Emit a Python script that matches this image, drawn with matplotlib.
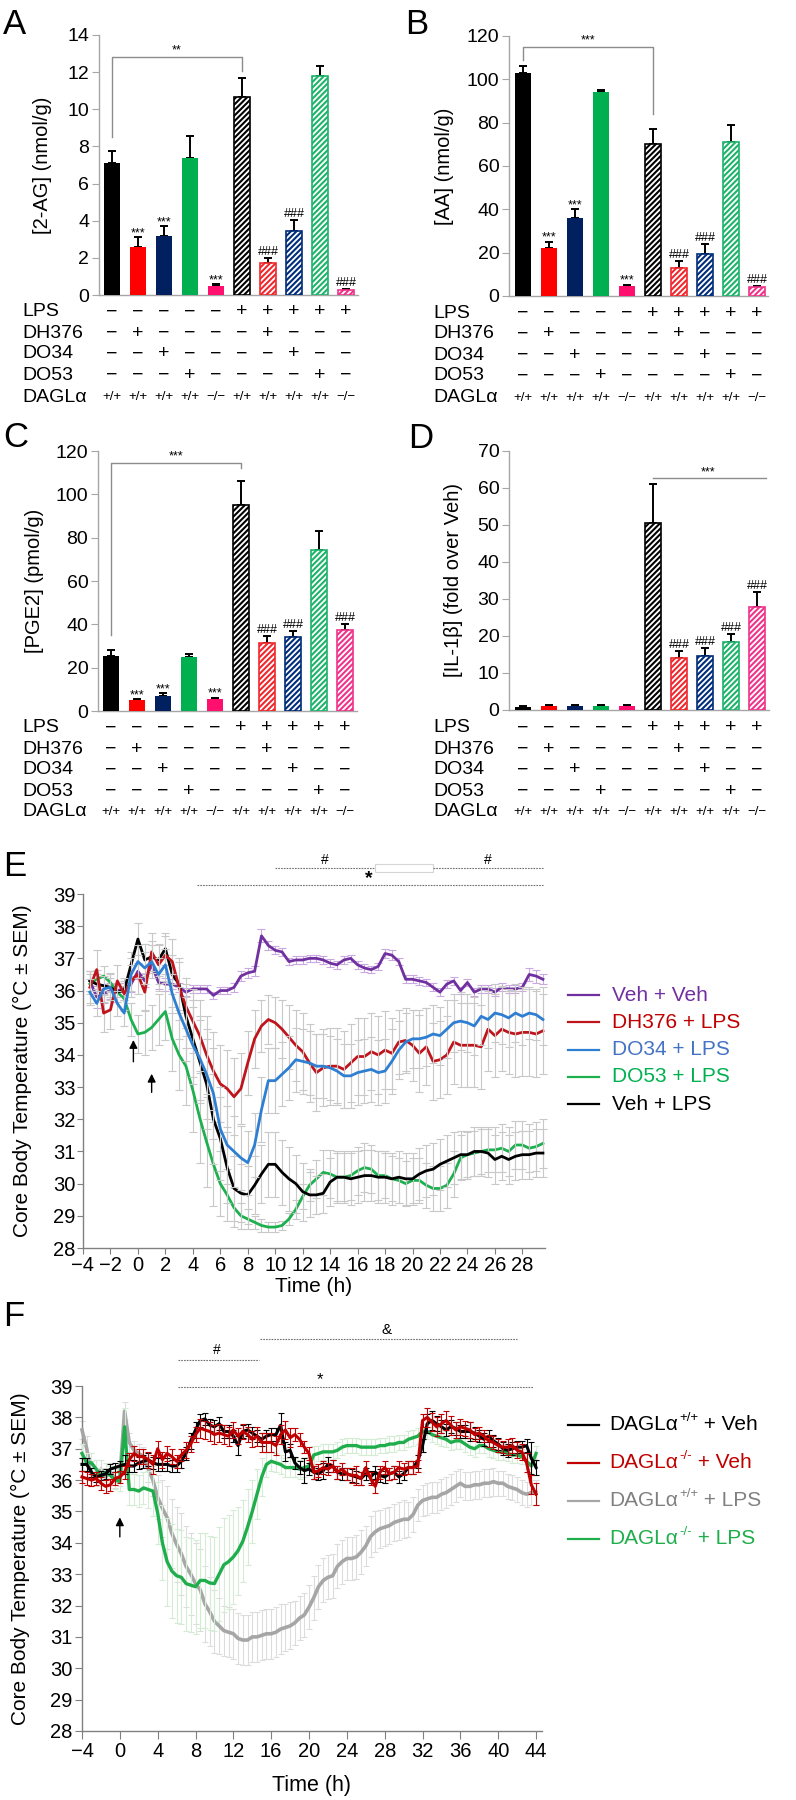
import numpy as np
import matplotlib
matplotlib.use('Agg')
import matplotlib.pyplot as plt
from matplotlib.transforms import blended_transform_factory as btf
from matplotlib.lines import Line2D
from matplotlib.patches import Rectangle

plt.rcParams['font.family'] = ['Liberation Sans', 'DejaVu Sans']
plt.rcParams['hatch.linewidth'] = 1.5

# ---------------- bar-panel data ----------------
lps_row   = ['−', '−', '−', '−', '−', '+', '+', '+', '+', '+']
dh376_row = ['−', '+', '−', '−', '−', '−', '+', '−', '−', '−']
do34_row  = ['−', '−', '+', '−', '−', '−', '−', '+', '−', '−']
do53_row  = ['−', '−', '−', '+', '−', '−', '−', '−', '+', '−']
dagl_row  = ['+/+', '+/+', '+/+', '+/+', '−/−', '+/+', '+/+', '+/+', '+/+', '−/−']
bar_colors = ['#000000', '#FF0000', '#002060', '#00B050', '#FF0F6E',
              '#000000', '#F0282D', '#002D7A', '#1DB36A', '#F0338A']

ag_vals  = [7.1, 2.6, 3.2, 7.4, 0.5, 10.65, 1.7, 3.45, 11.8, 0.25]
ag_errs  = [0.65, 0.5, 0.5, 1.15, 0.1, 1.05, 0.3, 0.6, 0.55, 0.05]
aa_vals  = [103, 22, 36, 94, 4.5, 70, 13, 19.5, 71, 4]
aa_errs  = [3, 3, 4, 1.2, 0.7, 7, 3, 4.5, 8, 0.8]
pge_vals = [25.5, 5, 7, 25, 5.5, 95, 31.5, 34, 74.5, 37.5]
pge_errs = [2.5, 0.5, 1.2, 1.5, 0.7, 11, 3, 3, 8.5, 2.7]
il_vals  = [0.9, 1.1, 1.1, 1.1, 1.1, 50.5, 14, 14.5, 18.5, 27.8]
il_errs  = [0.3, 0.3, 0.3, 0.3, 0.3, 10.5, 2, 2.3, 2, 4]

# ---------------- panel E data (h = -3.5 ... 29.5, step 0.5) ----------------
e_time = np.arange(-3.5, 29.51, 0.5)
e_labels = ['Veh + Veh', 'DH376 + LPS', 'DO34 + LPS', 'DO53 + LPS', 'Veh + LPS']
e_line_colors = ['#7030A0', '#C0141C', '#2E7FD2', '#1DB04F', '#000000']
e_text_colors = ['#7030A0', '#C00000', '#4472C4', '#00B050', '#000000']
e_vehveh = [36.3, 35.8, 35.9, 36.0, 36.0, 36.05, 36.2, 36.6, 36.3, 36.8,
            36.25, 36.2, 36.2, 36.1, 35.95, 36.05, 36.05, 36.05, 35.85, 36.0,
            36.0, 36.1, 36.45, 36.55, 36.6, 37.7, 37.4, 37.25, 37.2, 36.9,
            36.95, 36.95, 37.0, 37.0, 36.95, 36.85, 36.8, 36.95, 37.0, 36.8,
            36.7, 36.65, 36.75, 37.15, 37.1, 36.9, 36.35, 36.35, 36.3, 36.25,
            36.1, 35.95, 36.2, 36.3, 36.0, 36.25, 35.95, 36.05, 36.05, 35.95,
            36.1, 36.05, 36.05, 36.1, 36.5, 36.45, 36.35]
e_dh376 = [36.1, 36.65, 35.3, 35.4, 36.3, 35.9, 36.3, 36.5, 35.95, 37.2,
           36.8, 37.1, 36.9, 36.1, 35.5, 35.05, 34.6, 34.0, 33.5, 33.1,
           32.95, 32.7, 32.95, 33.75, 34.5, 34.9, 35.1, 35.0, 34.8, 34.55,
           34.3, 34.1, 33.75, 33.45, 33.6, 33.65, 33.65, 33.55, 33.75, 33.95,
           33.95, 34.1, 34.0, 34.15, 34.05, 34.4, 34.45, 34.3, 34.05, 34.25,
           33.8, 33.85, 34.0, 34.4, 34.3, 34.3, 34.3, 34.25, 34.8, 34.6,
           34.8, 34.7, 34.65, 34.7, 34.7, 34.65, 34.75]
e_do34 = [35.95, 35.6, 36.05, 36.1, 35.6, 35.3, 36.5, 36.9, 36.7, 36.9,
          36.5, 36.8, 35.9, 35.3, 34.8, 34.3, 33.9, 33.4, 32.8, 31.7,
          31.2, 31.0, 30.8, 30.65, 31.2, 32.3, 33.2, 33.2, 33.4, 33.6,
          33.85, 33.8, 33.75, 33.65, 33.65, 33.6, 33.5, 33.35, 33.35, 33.45,
          33.5, 33.55, 33.45, 33.5, 33.8, 34.15, 34.4, 34.5, 34.5, 34.55,
          34.65, 34.6, 34.8, 35.0, 35.05, 35.0, 34.9, 35.2, 35.1, 35.3,
          35.25, 35.15, 35.3, 35.2, 35.3, 35.25, 35.1]
e_do53 = [36.2, 36.35, 36.45, 36.25, 35.95, 35.75, 35.1, 34.65, 34.7, 34.85,
          35.1, 35.35, 34.5, 34.0, 33.65, 32.9, 32.05, 31.3, 30.6, 30.0,
          29.65, 29.25, 29.0, 28.9, 28.8, 28.7, 28.65, 28.65, 28.7, 28.9,
          29.2, 29.6, 29.95, 30.15, 30.35, 30.3, 30.2, 30.2, 30.25, 30.4,
          30.5, 30.45, 30.25, 30.25, 30.15, 30.1, 30.0, 30.1, 30.1, 29.95,
          29.85, 29.85, 29.95, 30.3, 30.8, 30.9, 30.95, 31.0, 31.05, 31.05,
          31.1, 31.0, 31.2, 31.2, 31.1, 31.15, 31.25]
e_vehlps = [36.3, 36.2, 36.15, 36.1, 35.95, 36.0, 36.8, 37.6, 36.95, 37.05,
            36.95, 37.3, 36.5, 36.2, 35.2, 34.5, 33.8, 33.1, 32.0, 31.4,
            30.5, 29.85, 29.7, 29.65, 29.95, 30.3, 30.6, 30.6, 30.35, 30.15,
            30.0, 29.75, 29.65, 29.65, 29.7, 30.05, 30.2, 30.2, 30.15, 30.2,
            30.25, 30.25, 30.2, 30.2, 30.15, 30.2, 30.15, 30.15, 30.3, 30.4,
            30.45, 30.6, 30.7, 30.8, 30.9, 30.9, 31.0, 31.0, 30.95, 30.75,
            30.85, 30.75, 30.85, 30.9, 30.9, 30.95, 30.95]
e_vehveh_sem = [0.3, 0.35, 0.3, 0.25, 0.2, 0.2, 0.25, 0.25, 0.2, 0.2,
                0.2, 0.2, 0.15, 0.15, 0.12, 0.12, 0.12, 0.12, 0.12, 0.12,
                0.12, 0.15, 0.15, 0.15, 0.15, 0.2, 0.15, 0.12, 0.12, 0.12,
                0.12, 0.12, 0.12, 0.12, 0.12, 0.12, 0.12, 0.12, 0.12, 0.12,
                0.12, 0.12, 0.12, 0.15, 0.15, 0.12, 0.12, 0.12, 0.12, 0.12,
                0.12, 0.12, 0.12, 0.12, 0.12, 0.12, 0.12, 0.12, 0.12, 0.12,
                0.12, 0.12, 0.12, 0.12, 0.2, 0.2, 0.15]
e_dh376_sem = [0.5, 0.6, 0.6, 0.6, 0.5, 0.5, 0.5, 0.6, 0.6, 0.6,
               0.6, 0.6, 0.7, 0.8, 0.9, 1.0, 1.1, 1.2, 1.2, 1.2,
               1.2, 1.2, 1.1, 1.0, 0.9, 0.8, 0.75, 0.8, 0.9, 1.0,
               1.1, 1.2, 1.2, 1.2, 1.2, 1.2, 1.2, 1.2, 1.2, 1.2,
               1.2, 1.2, 1.2, 1.2, 1.1, 1.0, 1.0, 1.1, 1.2, 1.2,
               1.2, 1.2, 1.2, 1.3, 1.3, 1.3, 1.3, 1.3, 1.3, 1.3,
               1.3, 1.3, 1.35, 1.35, 1.35, 1.35, 1.35]
e_do34_sem = [0.4, 0.4, 0.4, 0.4, 0.4, 0.4, 0.5, 0.5, 0.5, 0.5,
              0.5, 0.5, 0.6, 0.8, 1.0, 1.2, 1.3, 1.4, 1.4, 1.3,
              1.2, 1.1, 1.0, 1.0, 1.0, 1.0, 1.0, 1.0, 1.0, 1.0,
              1.0, 1.0, 1.0, 1.0, 1.0, 1.0, 1.0, 1.0, 1.0, 1.0,
              1.0, 1.0, 1.0, 1.0, 1.0, 0.9, 0.9, 0.9, 0.9, 0.9,
              0.9, 0.9, 0.9, 0.9, 0.9, 0.9, 0.9, 0.9, 0.9, 0.9,
              0.9, 0.9, 0.9, 0.9, 0.8, 0.8, 0.8]
e_do53_sem = [0.3, 0.3, 0.3, 0.3, 0.3, 0.4, 0.5, 0.6, 0.7, 0.7,
              0.8, 0.9, 1.0, 1.1, 1.2, 1.3, 1.4, 1.4, 1.3, 1.0,
              0.8, 0.6, 0.4, 0.3, 0.2, 0.2, 0.15, 0.15, 0.15, 0.2,
              0.3, 0.4, 0.5, 0.6, 0.7, 0.75, 0.75, 0.75, 0.75, 0.75,
              0.75, 0.75, 0.75, 0.7, 0.7, 0.7, 0.7, 0.7, 0.7, 0.7,
              0.7, 0.7, 0.7, 0.7, 0.7, 0.7, 0.7, 0.7, 0.7, 0.7,
              0.75, 0.75, 0.75, 0.75, 0.75, 0.75, 0.75]
e_vehlps_sem = [0.3, 0.3, 0.3, 0.3, 0.3, 0.3, 0.4, 0.5, 0.5, 0.5,
                0.5, 0.5, 0.6, 0.8, 1.0, 1.2, 1.3, 1.4, 1.4, 1.3,
                1.1, 1.0, 0.9, 0.9, 0.9, 0.9, 1.0, 1.0, 1.0, 1.0,
                0.9, 0.9, 0.7, 0.6, 0.6, 0.75, 0.8, 0.8, 0.8, 0.8,
                0.8, 0.8, 0.8, 0.8, 0.8, 0.8, 0.8, 0.8, 0.8, 0.8,
                0.8, 0.8, 0.8, 0.8, 0.75, 0.75, 0.75, 0.75, 0.75, 0.75,
                0.75, 0.75, 0.75, 0.75, 0.75, 0.75, 0.75]

# ---------------- panel F data (h = -4 ... 44, step 0.5) ----------------
f_time = np.arange(-4, 44.01, 0.5)
f_wt_veh = [36.5, 36.5, 36.25, 36.1, 36.15, 36.2, 36.35, 36.4, 36.45, 36.5,
            36.45, 36.45, 36.55, 36.6, 36.65, 36.55, 36.5, 36.5, 36.5, 36.45,
            36.45, 36.6, 36.85, 37.25, 37.6, 37.9, 37.95, 37.75, 37.7, 37.8,
            37.55, 37.55, 37.4, 37.1, 37.55, 37.6, 37.5, 37.4, 37.3, 37.4,
            37.45, 37.45, 37.75, 36.9, 36.95, 36.55, 36.4, 36.3, 36.35, 36.25,
            36.2, 36.3, 36.5, 36.45, 36.25, 36.2, 36.2, 36.15, 36.1, 36.05,
            36.2, 36.1, 36.25, 36.15, 36.1, 36.2, 36.25, 36.1, 36.2, 36.4,
            36.4, 36.6, 37.1, 37.8, 37.9, 37.8, 37.7, 37.6, 37.7, 37.65,
            37.55, 37.55, 37.55, 37.5, 37.4, 37.3, 37.4, 37.25, 37.15, 37.0,
            36.95, 37.0, 37.05, 37.05, 37.1, 36.7, 36.4]
f_ko_veh = [36.1, 36.05, 36.0, 36.05, 35.9, 35.8, 35.85, 36.05, 36.1, 36.25,
            36.65, 36.85, 36.75, 36.75, 36.65, 36.5, 37.0, 36.65, 36.85, 36.75,
            36.6, 36.8, 36.95, 37.15, 37.45, 37.65, 37.6, 37.55, 37.45, 37.5,
            37.45, 37.4, 37.6, 37.4, 37.55, 37.45, 37.3, 37.4, 37.2, 37.2,
            37.2, 37.1, 37.45, 37.6, 37.35, 37.45, 37.3, 37.05, 36.85, 36.25,
            36.3, 36.4, 36.35, 36.45, 36.25, 36.35, 36.2, 36.15, 36.15, 36.05,
            36.4, 36.05, 35.8, 36.25, 36.4, 36.2, 36.25, 36.4, 36.35, 36.4,
            36.4, 36.45, 37.9, 38.0, 37.85, 37.7, 37.8, 37.9, 37.75, 37.6,
            37.7, 37.65, 37.6, 37.45, 37.5, 37.4, 37.25, 37.2, 37.1, 37.05,
            37.05, 37.1, 36.95, 36.9, 36.55, 35.85, 35.55]
f_wt_lps = [37.6, 37.0, 36.2, 36.1, 36.35, 36.1, 36.25, 36.05, 36.1, 38.2,
            37.2, 36.95, 36.85, 36.75, 36.35, 36.0, 35.45, 35.1, 34.8, 34.3,
            33.95, 33.65, 33.25, 33.0, 32.7, 32.5, 32.05, 31.8, 31.5, 31.35,
            31.2, 31.15, 31.1, 30.95, 30.9, 30.9, 31.0, 31.0, 31.05, 31.1,
            31.1, 31.15, 31.25, 31.3, 31.35, 31.45, 31.6, 31.7, 31.95, 32.25,
            32.6, 32.8, 32.9, 32.95, 33.25, 33.4, 33.5, 33.5, 33.55, 33.7,
            33.9, 34.2, 34.35, 34.45, 34.5, 34.55, 34.65, 34.7, 34.75, 34.75,
            34.9, 35.2, 35.35, 35.4, 35.45, 35.45, 35.55, 35.6, 35.7, 35.8,
            35.9, 35.8, 35.8, 35.85, 35.85, 35.9, 35.9, 35.95, 35.9, 35.9,
            35.8, 35.75, 35.7, 35.6, 35.55, 35.6, 35.6]
f_ko_lps = [36.85, 36.55, 36.55, 36.35, 36.1, 36.25, 36.15, 36.0, 35.95, 37.7,
            35.7, 35.7, 35.65, 35.75, 35.7, 35.65, 34.95, 34.0, 33.4, 33.1,
            32.95, 32.9, 32.7, 32.65, 32.6, 32.8, 32.8, 32.72, 32.7, 33.0,
            33.3, 33.4, 33.55, 33.75, 34.05, 34.5, 35.0, 35.55, 36.1, 36.5,
            36.6, 36.55, 36.5, 36.4, 36.4, 36.4, 36.35, 36.4, 36.45, 36.8,
            36.85, 36.9, 36.9, 36.9, 36.95, 37.05, 37.1, 37.1, 37.1, 37.05,
            37.05, 37.05, 37.05, 37.1, 37.1, 37.15, 37.15, 37.2, 37.2, 37.3,
            37.35, 37.4, 37.55, 37.55, 37.45, 37.4, 37.35, 37.3, 37.2, 37.25,
            37.25, 37.15, 37.05, 37.0, 37.1, 37.1, 37.0, 36.95, 36.9, 36.9,
            36.85, 36.8, 36.8, 36.75, 36.6, 36.45, 36.85]
f_wt_veh_sem = [0.2, 0.2, 0.15, 0.15, 0.15, 0.15, 0.15, 0.15, 0.15, 0.3,
                0.2, 0.2, 0.2, 0.2, 0.2, 0.2, 0.2, 0.2, 0.2, 0.2,
                0.2, 0.2, 0.2, 0.25, 0.25, 0.2, 0.2, 0.2, 0.2, 0.2,
                0.2, 0.2, 0.2, 0.3, 0.2, 0.2, 0.2, 0.2, 0.2, 0.2,
                0.2, 0.2, 0.4, 0.3, 0.2, 0.2, 0.2, 0.4, 0.2, 0.2,
                0.2, 0.25, 0.25, 0.2, 0.2, 0.2, 0.2, 0.2, 0.2, 0.2,
                0.2, 0.2, 0.2, 0.2, 0.2, 0.2, 0.2, 0.2, 0.2, 0.2,
                0.2, 0.2, 0.2, 0.3, 0.3, 0.25, 0.2, 0.2, 0.2, 0.2,
                0.2, 0.2, 0.3, 0.2, 0.2, 0.2, 0.2, 0.2, 0.2, 0.2,
                0.2, 0.2, 0.2, 0.2, 0.2, 0.5, 0.25]
f_ko_veh_sem = [0.2, 0.2, 0.2, 0.2, 0.2, 0.2, 0.2, 0.2, 0.2, 0.2,
                0.2, 0.25, 0.25, 0.25, 0.25, 0.3, 0.25, 0.25, 0.25, 0.25,
                0.2, 0.2, 0.25, 0.25, 0.25, 0.3, 0.3, 0.3, 0.3, 0.3,
                0.3, 0.3, 0.25, 0.25, 0.25, 0.25, 0.25, 0.3, 0.3, 0.3,
                0.3, 0.3, 0.3, 0.3, 0.3, 0.2, 0.2, 0.2, 0.2, 0.2,
                0.2, 0.2, 0.2, 0.2, 0.2, 0.2, 0.2, 0.25, 0.3, 0.2,
                0.2, 0.2, 0.2, 0.2, 0.2, 0.2, 0.2, 0.2, 0.2, 0.2,
                0.2, 0.2, 0.2, 0.3, 0.3, 0.3, 0.3, 0.3, 0.3, 0.25,
                0.25, 0.25, 0.25, 0.2, 0.2, 0.2, 0.2, 0.2, 0.2, 0.2,
                0.25, 0.25, 0.25, 0.25, 0.3, 0.3, 0.35]
f_wt_lps_sem = [0.3, 0.4, 0.4, 0.3, 0.3, 0.3, 0.3, 0.3, 0.3, 0.3,
                0.3, 0.3, 0.3, 0.3, 0.4, 0.5, 0.7, 0.9, 1.0, 1.1,
                1.2, 1.3, 1.3, 1.3, 1.3, 1.3, 1.2, 1.1, 1.0, 0.9,
                0.8, 0.8, 0.8, 0.8, 0.8, 0.8, 0.8, 0.8, 0.8, 0.8,
                0.8, 0.8, 0.8, 0.75, 0.75, 0.7, 0.7, 0.7, 0.7, 0.7,
                0.7, 0.7, 0.7, 0.7, 0.7, 0.7, 0.7, 0.7, 0.7, 0.7,
                0.65, 0.65, 0.65, 0.6, 0.6, 0.6, 0.6, 0.6, 0.6, 0.55,
                0.55, 0.5, 0.5, 0.5, 0.5, 0.5, 0.5, 0.5, 0.5, 0.5,
                0.45, 0.45, 0.45, 0.45, 0.45, 0.45, 0.45, 0.45, 0.4, 0.4,
                0.4, 0.4, 0.4, 0.4, 0.4, 0.4, 0.4]
f_ko_lps_sem = [0.3, 0.3, 0.3, 0.3, 0.3, 0.3, 0.3, 0.3, 0.3, 0.6,
                0.5, 0.5, 0.5, 0.5, 0.6, 0.8, 1.0, 1.2, 1.4, 1.5,
                1.5, 1.5, 1.5, 1.5, 1.5, 1.5, 1.5, 1.5, 1.5, 1.5,
                1.5, 1.5, 1.5, 1.4, 1.3, 1.2, 1.0, 0.8, 0.6, 0.4,
                0.3, 0.3, 0.3, 0.3, 0.3, 0.3, 0.3, 0.3, 0.3, 0.3,
                0.25, 0.25, 0.25, 0.25, 0.25, 0.25, 0.25, 0.25, 0.25, 0.25,
                0.25, 0.25, 0.25, 0.25, 0.25, 0.25, 0.25, 0.25, 0.25, 0.25,
                0.25, 0.25, 0.25, 0.25, 0.25, 0.25, 0.25, 0.25, 0.25, 0.25,
                0.25, 0.25, 0.25, 0.25, 0.25, 0.25, 0.25, 0.25, 0.25, 0.25,
                0.25, 0.25, 0.25, 0.25, 0.25, 0.25, 0.25]
f_line_colors = ['#000000', '#C00000', '#A6A6A6', '#1FAE4B']
f_text_colors = ['#000000', '#C00000', '#808080', '#1FAE4B']
f_main = ['DAGLα', 'DAGLα', 'DAGLα', 'DAGLα']
f_sup = ['+/+', '-/-', '+/+', '-/-']
f_rest = [' + Veh', ' + Veh', ' + LPS', ' + LPS']

# ---------------- figure ----------------
W, H = 796, 1800
fig = plt.figure(figsize=(W / 100, H / 100), dpi=100)
renderer = fig.canvas.get_renderer()


def fy(ypx):
    return 1 - ypx / H


def add_ax(l, t, r, b):
    return fig.add_axes([l / W, 1 - b / H, (r - l) / W, (b - t) / H])


def style(ax, col):
    for s in ['top', 'right']:
        ax.spines[s].set_visible(False)
    for s in ['left', 'bottom']:
        ax.spines[s].set_color(col)
        ax.spines[s].set_linewidth(1.0)
    ax.tick_params(colors=col, labelcolor='black', direction='out')


def bar_panel(ax, vals, errs, ytop, ystep, ylabel, ylab_x, stars, hashes, xl):
    xs = np.arange(len(vals))
    for i in xs:
        if lps_row[i] == '+':
            ax.bar(i, vals[i], 0.6, facecolor='white', edgecolor=bar_colors[i],
                   hatch='//////', linewidth=1.2, zorder=3)
        else:
            ax.bar(i, vals[i], 0.6, color=bar_colors[i], linewidth=0, zorder=3)
    ax.errorbar(xs, vals, yerr=[np.zeros(len(vals)), errs], fmt='none', ecolor='black',
                elinewidth=1.4, capsize=3.2, capthick=1.4, zorder=2)
    for i in stars:
        ax.annotate('***', (i, vals[i] + errs[i]), xytext=(0, -1.5), textcoords='offset points',
                    ha='center', va='bottom', fontsize=9)
    for i in hashes:
        ax.annotate('###', (i, vals[i] + errs[i]), xytext=(0, 0), textcoords='offset points',
                    ha='center', va='bottom', fontsize=9)
    style(ax, '#A6A6A6')
    ax.set_xlim(*xl)
    ax.set_ylim(0, ytop)
    ax.set_yticks(np.arange(0, ytop + 0.01, ystep))
    ax.set_xticks([])
    ax.tick_params(axis='y', labelsize=14, length=5, pad=2)
    ax.text(ylab_x, 0.5, ylabel, rotation=90, ha='center', va='center', fontsize=14.5,
            transform=ax.transAxes)


def rows(ax, rows_px, lab_x):
    tr = btf(ax.transData, fig.transFigure)
    names = ['LPS', 'DH376', 'DO34', 'DO53', 'DAGLα']
    data = [lps_row, dh376_row, do34_row, do53_row, dagl_row]
    for name, row, ypx in zip(names, data, rows_px):
        fig.text(lab_x / W, fy(ypx), name, fontsize=14, va='center', ha='left')
        for i, s in enumerate(row):
            ax.text(i, fy(ypx), s, transform=tr, ha='center', va='center',
                    fontsize=(9.5 if name == 'DAGLα' else 14), clip_on=False)


def bracket(ax, x0, x1, ytop, yl, yr, txt):
    ax.plot([x0, x0, x1, x1], [yl, ytop, ytop, yr], color='#8C8C8C', lw=1.0, zorder=1)
    ax.annotate(txt, ((x0 + x1) / 2, ytop), xytext=(0, 0), textcoords='offset points',
                ha='center', va='bottom', fontsize=9)


# Panel A
axA = add_ax(99, 35, 358, 295)
bar_panel(axA, ag_vals, ag_errs, 14, 2, '[2-AG] (nmol/g)', -0.22, [1, 2, 4], [6, 7, 9], (-0.5, 9.46))
bracket(axA, 0, 5, 12.84, 8.5, 12.07, '**')
rows(axA, [312, 333, 354, 375, 397], 22)

# Panel B
axB = add_ax(509, 36, 768, 296)
bar_panel(axB, aa_vals, aa_errs, 120, 20, '[AA] (nmol/g)', -0.25, [1, 2, 4], [6, 7, 9], (-0.54, 9.42))
bracket(axB, 0, 5, 115, 109, 84, '***')
rows(axB, [313, 334, 355, 376, 398], 433)

# Panel C
axC = add_ax(98, 451, 357, 711)
bar_panel(axC, pge_vals, pge_errs, 120, 20, '[PGE2] (pmol/g)', -0.245, [1, 2, 4], [6, 7, 9], (-0.5, 9.46))
bracket(axC, 0, 5, 114.6, 35, 112, '***')
rows(axC, [728, 749, 770, 791, 812], 22)

# Panel D
axD = add_ax(509, 451, 769, 710)
bar_panel(axD, il_vals, il_errs, 70, 10, '[IL-1β] (fold over Veh)', -0.215, [], [6, 7, 8, 9], (-0.54, 9.46))
axD.plot([5, 9.35], [62.7, 62.7], color='#8C8C8C', lw=1.0, clip_on=False)
axD.annotate('***', (7.1, 62.7), xytext=(0, 0), textcoords='offset points', ha='center', va='bottom', fontsize=9)
rows(axD, [728, 749, 770, 791, 812], 433)

# panel letters
for lab, x, y in [('A', 3, 8), ('B', 405, 8), ('C', 3, 421), ('D', 408, 422), ('E', 3, 850), ('F', 3, 1300)]:
    fig.text(x / W, fy(y), lab, fontsize=25, va='top', ha='left')


def series(ax, t, v, s, lcol, ecol, lw, cap, z):
    n = min(len(t), len(v), len(s))
    t, v, s = np.asarray(t[:n]), np.asarray(v[:n]), np.asarray(s[:n])
    ax.errorbar(t, v, yerr=s, fmt='none', ecolor=ecol, elinewidth=0.8, capsize=cap,
                capthick=0.8, zorder=z - 0.5, clip_on=False)
    ax.plot(t, v, color=lcol, lw=lw, zorder=z, solid_joinstyle='round', clip_on=False)


# Panel E
axE = add_ax(83, 894, 545, 1248)
style(axE, '#808080')
axE.set_xlim(-4, 29.65)
axE.set_ylim(28, 39)
axE.set_xticks(np.arange(-4, 29, 2))
axE.set_yticks(np.arange(28, 40, 1))
axE.tick_params(labelsize=14.5, length=4, pad=1.5)
e_series = [e_vehveh, e_dh376, e_do34, e_do53, e_vehlps]
e_sems = [e_vehveh_sem, e_dh376_sem, e_do34_sem, e_do53_sem, e_vehlps_sem]
e_ecols = ['#C9A9E0', '#C8C8C8', '#C8C8C8', '#C8C8C8', '#C8C8C8']
e_z = [3, 6, 7, 4, 5]
for v, s, lc, ec, z in zip(e_series, e_sems, e_line_colors, e_ecols, e_z):
    series(axE, e_time, v, s, lc, ec, 2.0, 2.6, z)
axE.annotate('', xy=(-0.33, 34.55), xytext=(-0.33, 33.7),
             arrowprops=dict(arrowstyle='-|>', color='black', lw=1.0, mutation_scale=12), zorder=9)
axE.annotate('', xy=(1.0, 33.5), xytext=(1.0, 32.75),
             arrowprops=dict(arrowstyle='-|>', color='black', lw=1.0, mutation_scale=12), zorder=9)
axE.text(-0.13, 0.5, 'Core Body Temperature (°C ± SEM)', rotation=90, ha='center', va='center',
         fontsize=15, transform=axE.transAxes)
axE.text(0.5, -0.11, 'Time (h)', ha='center', va='center', fontsize=15, transform=axE.transAxes)
trE = btf(axE.transData, fig.transFigure)
dash = (0, (1.5, 1))
axE.plot([10, 17.3], [fy(868)] * 2, transform=trE, color='#707070', lw=0.8, ls=dash, clip_on=False)
axE.plot([21.5, 29.5], [fy(868)] * 2, transform=trE, color='#707070', lw=0.8, ls=dash, clip_on=False)
axE.add_patch(Rectangle((17.3, fy(872)), 4.2, 8 / H, transform=trE, fill=False,
                        edgecolor='#D5D5D5', lw=0.8, clip_on=False))
axE.text(13.6, fy(860), '#', transform=trE, ha='center', va='center', fontsize=10)
axE.text(25.5, fy(860), '#', transform=trE, ha='center', va='center', fontsize=10)
axE.plot([4.3, 29.5], [fy(885)] * 2, transform=trE, color='#707070', lw=0.8, ls=dash, clip_on=False)
axE.text(16.8, fy(879), '*', transform=trE, ha='center', va='center', fontsize=14, fontweight='bold')

# legend E
for k, (lab, lc, tc) in enumerate(zip(e_labels, e_line_colors, e_text_colors)):
    y = fy(995 + 27.3 * k)
    fig.add_artist(Line2D([568 / W, 599 / W], [y, y], color=lc, lw=1.6))
    fig.text(612 / W, y, lab, color=tc, fontsize=15, va='center', ha='left')

# Panel F
axF = add_ax(82, 1386, 542, 1731)
style(axF, '#808080')
axF.set_xlim(-4, 44.63)
axF.set_ylim(28, 39)
axF.set_xticks(np.arange(-4, 45, 4))
axF.set_yticks(np.arange(28, 40, 1))
axF.tick_params(axis='x', labelsize=14.5, length=6, pad=2)
axF.tick_params(axis='y', labelsize=14.5, length=5, pad=2)
series(axF, f_time, f_wt_lps, f_wt_lps_sem, '#A6A6A6', '#DCDCDC', 2.6, 2.4, 3)
series(axF, f_time, f_ko_lps, f_ko_lps_sem, '#1FAE4B', '#D4EBD4', 2.4, 2.4, 4)
series(axF, f_time, f_wt_veh, f_wt_veh_sem, '#000000', '#000000', 2.2, 2.4, 5)
series(axF, f_time, f_ko_veh, f_ko_veh_sem, '#C00000', '#C00000', 2.2, 2.4, 6)
axF.annotate('', xy=(0.0, 34.9), xytext=(0.0, 34.1),
             arrowprops=dict(arrowstyle='-|>', color='black', lw=1.0, mutation_scale=12), zorder=9)
axF.text(-0.133, 0.5, 'Core Body Temperature (°C ± SEM)', rotation=90, ha='center', va='center',
         fontsize=15, transform=axF.transAxes)
axF.text(0.5, -0.157, 'Time (h)', ha='center', va='center', fontsize=15.5, transform=axF.transAxes)
trF = btf(axF.transData, fig.transFigure)
axF.plot([14.8, 42.0], [fy(1339)] * 2, transform=trF, color='#707070', lw=0.8, ls=dash, clip_on=False)
axF.text(28.2, fy(1330), '&', transform=trF, ha='center', va='center', fontsize=11)
axF.plot([6.2, 14.7], [fy(1360)] * 2, transform=trF, color='#707070', lw=0.8, ls=dash, clip_on=False)
axF.text(10.3, fy(1350), '#', transform=trF, ha='center', va='center', fontsize=10)
axF.plot([6.2, 43.7], [fy(1387)] * 2, transform=trF, color='#707070', lw=0.8, ls=dash, clip_on=False)
axF.text(21.2, fy(1380), '*', transform=trF, ha='center', va='center', fontsize=12)

# legend F (superscripts placed as separate texts)
for k in range(4):
    y = fy(1425 + 38 * k)
    fig.add_artist(Line2D([568 / W, 599 / W], [y, y], color=f_line_colors[k], lw=1.6))
    t1 = fig.text(609 / W, y, f_main[k], color=f_text_colors[k], fontsize=15, va='center', ha='left')
    bb = t1.get_window_extent(renderer=renderer)
    x2 = bb.x1 / fig.dpi / fig.get_figwidth() + 1 / W
    t2 = fig.text(x2, y + 7 / H, f_sup[k], color=f_text_colors[k], fontsize=9.5, va='center', ha='left')
    bb2 = t2.get_window_extent(renderer=renderer)
    x3 = bb2.x1 / fig.dpi / fig.get_figwidth()
    fig.text(x3, y, f_rest[k], color=f_text_colors[k], fontsize=15, va='center', ha='left')

fig.savefig('out.png', dpi=100)
